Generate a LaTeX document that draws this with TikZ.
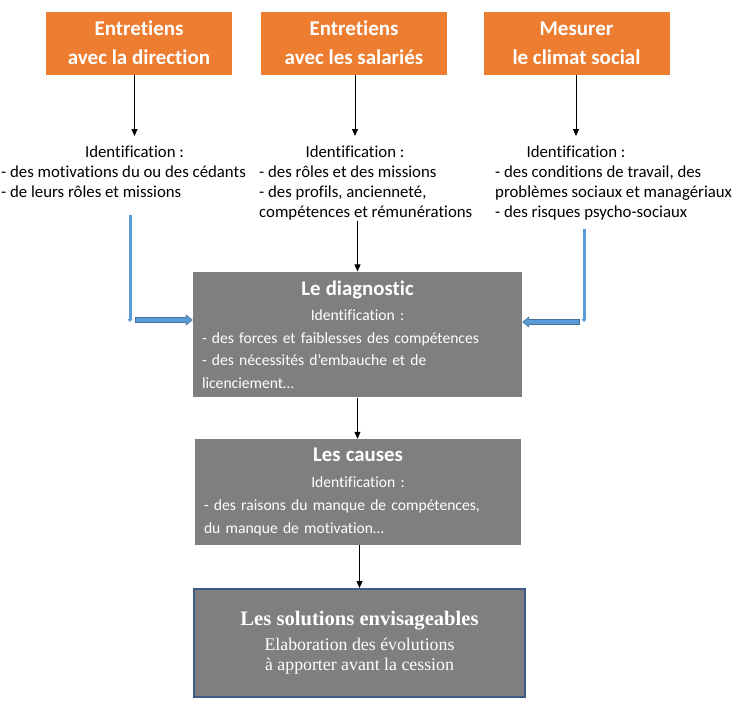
\documentclass[tikz,border=0pt]{standalone}
\usepackage{fontspec}
\setmainfont{Carlito}[Ligatures=NoCommon]
\newfontfamily\timesfont{Liberation Serif}
\usetikzlibrary{arrows.meta,positioning}
\definecolor{orangeFill}{HTML}{ED7D31}
\definecolor{grayFill}{HTML}{7F7F7F}
\definecolor{blueFill}{HTML}{5B9BD5}
\definecolor{blueLine}{HTML}{41719C}
\definecolor{navyLine}{HTML}{3F5A85}

\tikzset{
    topbox/.style={fill=orangeFill, text=white, inner sep=0pt,
        minimum width=186pt, minimum height=63pt, align=center,
        font=\fontsize{21}{29}\selectfont\bfseries},
    idtext/.style={inner sep=0pt, font=\fontsize{16.8}{20}\selectfont},
    listtext/.style={idtext, align=left, anchor=north west},
    greybox/.style={fill=grayFill, text=white, inner sep=9pt, align=left,
        font=\fontsize{15.6}{22.5}\selectfont},
    darrow/.style={line width=0.8pt, -{Triangle[length=7pt,width=6pt]}},
    bluedown/.style={blueFill, line width=3pt, -{Triangle[length=3pt,width=5pt]}},
    blueout/.style={blueLine, line width=5.5pt, -{Triangle[length=7pt,width=11pt]}},
    bluein/.style={blueFill, line width=3.5pt, shorten >=1.3pt,
        -{Triangle[length=5pt,width=8pt]}},
}
\newcommand{\greytitle}[1]{{\centering\fontsize{20.8}{26.5}\selectfont\bfseries #1\par}\vspace{3pt}}

\begin{document}
\begin{tikzpicture}[x=1pt, y=-1pt]
    \useasboundingbox (0, 0) rectangle (736, 716);

    % the three sources
    \node [topbox] (dir) at (139, 43) {Entretiens\\avec la direction};
    \node [topbox] (sal) at (354, 43) {Entretiens\\avec les salariés};
    \node [topbox] (clim) at (576.5, 43) {Mesurer\\le climat social};

    \node [idtext, anchor=north] (id1) at (134.5, 146) {Identification :};
    \node [idtext, anchor=north] (id2) at (355, 146) {Identification :};
    \node [idtext, anchor=north] (id3) at (576, 146) {Identification :};

    \node [listtext] (list1) at (1, 166) {- des motivations du ou des cédants\\- de leurs rôles et missions};
    \node [listtext] (list2) at (259, 166) {- des rôles et des missions\\- des profils, ancienneté,\\compétences et rémunérations};
    \node [listtext] (list3) at (495, 166) {- des conditions de travail, des\\problèmes sociaux et managériaux\\- des risques psycho-sociaux};

    \draw [darrow, shorten >=10pt] (dir.south -| id1.north) -- (id1.north);
    \draw [darrow, shorten >=10pt] (sal.south -| id2.north) -- (id2.north);
    \draw [darrow, shorten >=10pt] (clim.south -| id3.north) -- (id3.north);

    % the analysis chain
    \node [greybox, text width=311pt, minimum height=125pt] (diag) at (357.5, 334.5) {%
        \greytitle{Le diagnostic}
        {\centering Identification :\par}
        - des forces et faiblesses des compétences\par
        - des nécessités d’embauche et de\par
        licenciement…};
    \node [greybox, text width=308pt, minimum height=102pt,
        font=\fontsize{15.6}{23}\selectfont] (caus) at (358, 492) {%
        \greytitle{Les causes}
        {\centering Identification :\par}
        - des raisons du manque de compétences,\par
        du manque de motivation…};
    \node [fill=grayFill, draw=navyLine, line width=2pt, text=white,
        minimum width=331pt, minimum height=108pt, align=center,
        font=\timesfont\fontsize{17.8}{20.5}\selectfont] (sol) at (359.5, 643)
        {{\fontsize{20.6}{27}\selectfont\bfseries Les solutions envisageables}\\[4pt]
        Elaboration des évolutions\\à apporter avant la cession};

    \draw [darrow] (list2.south -| diag.north) -- (diag.north);
    \draw [darrow] (diag.south) -- (diag.south |- caus.north);
    \draw [darrow] (caus.south -| sol.north) -- (sol.north);

    % the blue feeds into the diagnostic
    \coordinate (lt) at (130, 215);
    \coordinate (lb) at (130, 322);
    \coordinate (lh) at (135, 320);
    \coordinate (rt) at (584, 229);
    \coordinate (rb) at (584, 322);
    \coordinate (rh) at (580, 322);

    \draw [bluedown] (lt) -- (lb);
    \draw [bluedown] (rt) -- (rb);
    \draw [blueout] (lh) -- (lh -| diag.west);
    \draw [bluein] (lh) ++(0.8, 0) -- (lh -| diag.west);
    \draw [blueout] (rh) -- (rh -| diag.east);
    \draw [bluein] (rh) ++(-0.8, 0) -- (rh -| diag.east);
\end{tikzpicture}
\end{document}
